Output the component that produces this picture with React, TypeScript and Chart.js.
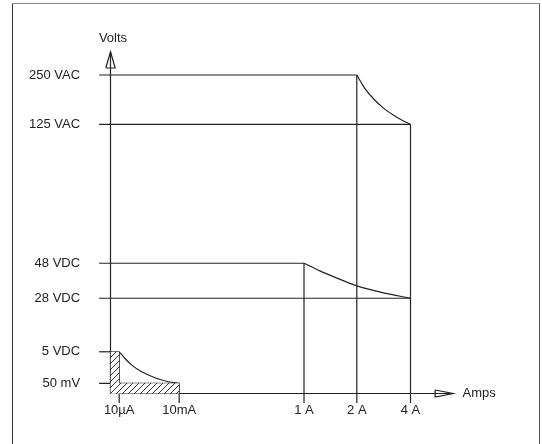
import React, { useEffect, useRef } from "react";
import { Chart, registerables } from "chart.js";

Chart.register(...registerables);

// Schematic axis positions (current axis: origin 0, 4 A = 100; voltage axis: origin 0, 250 VAC = 100)
const currentLabels = ["10\u00b5A", "10mA", "1 A", "2 A", "4 A"];
const currentPos = [2.9, 22.9, 64.5, 82.1, 100];
// voltage level each current line rises to
const currentTopLevel = ["5 VDC", "50 mV", "48 VDC", "250 VAC", "125 VAC"];

const voltageLabels = ["50 mV", "5 VDC", "28 VDC", "48 VDC", "125 VAC", "250 VAC"];
const voltagePos = [3.2, 13.1, 29.9, 40.9, 84.5, 100];

// Limit curves (schematic units)
const acCurveAmps = [82.1, 84.7, 87.9, 91.0, 94.5, 97.2, 100];
const acCurveVolts = [100, 95.9, 92.3, 89.6, 87.3, 85.8, 84.5];

const dcCurveAmps = [64.5, 69.8, 74.3, 82.1, 91.0, 100];
const dcCurveVolts = [40.9, 38.5, 36.7, 33.8, 31.6, 29.9];

const lowCurveAmps = [2.9, 4.8, 7.1, 10.4, 14.8, 19.3, 22.9];
const lowCurveVolts = [13.1, 11.05, 8.9, 6.8, 4.95, 3.7, 3.2];

const xAxisTitle = "Amps";
const yAxisTitle = "Volts";

// axis extents (schematic units)
const X_TICK_START = -3.8;
const Y_TICK_END = -3.0;
const X_AXIS_END = 114.2;
const X_ARROW_BASE = 108.2;
const Y_AXIS_END = 107.3;
const Y_ARROW_BASE = 102.2;

const INK = "#222";
const FONT = '13px "Liberation Sans", Arial, Helvetica, sans-serif';

const v = (label: string) => voltagePos[voltageLabels.indexOf(label)];
const c = (label: string) => currentPos[currentLabels.indexOf(label)];
const pts = (xs: number[], ys: number[]) => xs.map((x, i) => ({ x, y: ys[i] }));

export default function App() {
  const ref = useRef<HTMLCanvasElement>(null);

  useEffect(() => {
    if (!ref.current) return;

    const pc = document.createElement("canvas");
    pc.width = 6;
    pc.height = 6;
    const pctx = pc.getContext("2d")!;
    pctx.fillStyle = "#fff";
    pctx.fillRect(0, 0, 6, 6);
    pctx.strokeStyle = "#333";
    pctx.lineWidth = 1;
    pctx.beginPath();
    pctx.moveTo(-1, 7);
    pctx.lineTo(7, -1);
    pctx.moveTo(-4, 4);
    pctx.lineTo(4, -4);
    pctx.moveTo(2, 10);
    pctx.lineTo(10, 2);
    pctx.stroke();
    const pattern = pctx.createPattern(pc, "repeat")!;

    const line = (data: { x: number; y: number }[], extra: any = {}) => ({
      data,
      showLine: true,
      borderColor: INK,
      borderWidth: 1.2,
      pointRadius: 0,
      tension: 0,
      fill: false,
      clip: false,
      ...extra,
    });
    const curve = (data: { x: number; y: number }[]) =>
      line(data, { cubicInterpolationMode: "monotone" });

    const datasets: any[] = [];

    // hatched low-level region
    datasets.push(
      line([{ x: 0, y: v("5 VDC") }, { x: c("10\u00b5A"), y: v("5 VDC") }], {
        fill: "origin",
        backgroundColor: pattern,
        borderWidth: 0,
      })
    );
    datasets.push(
      line([{ x: 0, y: v("50 mV") }, { x: c("10mA"), y: v("50 mV") }], {
        fill: "origin",
        backgroundColor: pattern,
        borderWidth: 0,
      })
    );

    // horizontal level lines
    datasets.push(line([{ x: X_TICK_START, y: v("250 VAC") }, { x: c("2 A"), y: v("250 VAC") }]));
    datasets.push(line([{ x: X_TICK_START, y: v("125 VAC") }, { x: c("4 A"), y: v("125 VAC") }]));
    datasets.push(line([{ x: X_TICK_START, y: v("48 VDC") }, { x: c("1 A"), y: v("48 VDC") }]));
    datasets.push(line([{ x: X_TICK_START, y: v("28 VDC") }, { x: c("4 A"), y: v("28 VDC") }]));
    datasets.push(line([{ x: X_TICK_START, y: v("5 VDC") }, { x: c("10\u00b5A"), y: v("5 VDC") }]));
    datasets.push(line([{ x: X_TICK_START, y: v("50 mV") }, { x: c("10mA"), y: v("50 mV") }]));

    // limit curves
    datasets.push(curve(pts(acCurveAmps, acCurveVolts)));
    datasets.push(curve(pts(dcCurveAmps, dcCurveVolts)));
    datasets.push(curve(pts(lowCurveAmps, lowCurveVolts)));

    // vertical current lines
    currentLabels.forEach((lab, i) => {
      datasets.push(
        line([
          { x: currentPos[i], y: Y_TICK_END },
          { x: currentPos[i], y: v(currentTopLevel[i]) },
        ])
      );
    });

    // axes
    datasets.push(line([{ x: 0, y: 0 }, { x: 0, y: Y_AXIS_END }]));
    datasets.push(line([{ x: 0, y: 0 }, { x: X_AXIS_END, y: 0 }]));
    // arrow heads (open triangles)
    datasets.push(
      line(
        [
          { x: -1.57, y: Y_ARROW_BASE },
          { x: 0, y: Y_AXIS_END },
          { x: 1.57, y: Y_ARROW_BASE },
          { x: -1.57, y: Y_ARROW_BASE },
        ],
        { borderJoinStyle: "miter" }
      )
    );
    datasets.push(
      line(
        [
          { x: X_ARROW_BASE, y: 1.1 },
          { x: X_AXIS_END, y: 0 },
          { x: X_ARROW_BASE, y: -1.1 },
          { x: X_ARROW_BASE, y: 1.1 },
        ],
        { borderJoinStyle: "miter" }
      )
    );

    const labelsPlugin = {
      id: "diagramLabels",
      beforeDraw(chart: any) {
        const ctx = chart.ctx;
        ctx.save();
        ctx.fillStyle = "#fff";
        ctx.fillRect(0, 0, chart.width, chart.height);
        ctx.lineWidth = 1;
        ctx.strokeStyle = "#333";
        ctx.beginPath();
        ctx.moveTo(12.5, 444);
        ctx.lineTo(12.5, 3.5);
        ctx.stroke();
        ctx.strokeStyle = "#8a8a8a";
        ctx.beginPath();
        ctx.moveTo(12.5, 3.5);
        ctx.lineTo(539.5, 3.5);
        ctx.stroke();
        ctx.strokeStyle = "#555";
        ctx.beginPath();
        ctx.moveTo(539.5, 3.5);
        ctx.lineTo(539.5, 444);
        ctx.stroke();
        ctx.restore();
      },
      afterDraw(chart: any) {
        const ctx = chart.ctx;
        const xs = chart.scales.x;
        const ys = chart.scales.y;
        ctx.save();
        ctx.font = FONT;
        ctx.fillStyle = INK;
        ctx.textBaseline = "middle";
        ctx.textAlign = "right";
        voltageLabels.forEach((lab, i) => {
          ctx.fillText(lab, xs.getPixelForValue(X_TICK_START) - 19, ys.getPixelForValue(voltagePos[i]));
        });
        ctx.textAlign = "center";
        currentLabels.forEach((lab, i) => {
          ctx.fillText(lab, xs.getPixelForValue(currentPos[i]), ys.getPixelForValue(0) + 16.5);
        });
        ctx.fillText(yAxisTitle, xs.getPixelForValue(0) + 2.5, ys.getPixelForValue(Y_AXIS_END) - 13.5);
        ctx.textAlign = "left";
        ctx.fillText(xAxisTitle, xs.getPixelForValue(X_AXIS_END) + 9.5, ys.getPixelForValue(0) - 0.5);
        ctx.restore();
      },
    };

    const chart = new Chart(ref.current, {
      type: "scatter",
      data: { datasets },
      options: {
        responsive: false,
        animation: false,
        events: [],
        layout: { padding: { left: 95.5, right: 71.5, top: 43.15, bottom: 37.76 } },
        plugins: { legend: { display: false }, tooltip: { enabled: false } },
        scales: {
          x: { type: "linear", display: false, min: -5, max: 120 },
          y: { type: "linear", display: false, min: -4, max: 110 },
        },
      },
      plugins: [labelsPlugin],
    });
    return () => chart.destroy();
  }, []);

  return (
    <div style={{ position: "absolute", left: 0, top: 0, width: 542, height: 444, background: "#fff" }}>
      <canvas ref={ref} width={542} height={444} style={{ width: 542, height: 444, display: "block" }} />
    </div>
  );
}
